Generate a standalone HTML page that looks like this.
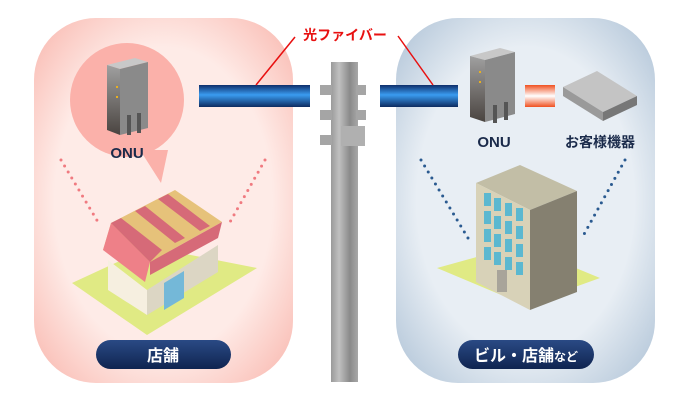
<!DOCTYPE html>
<html><head><meta charset="utf-8"><style>
html,body{margin:0;padding:0;background:#fff;}
svg{display:block;font-family:"Liberation Sans","Noto Sans CJK JP",sans-serif;}
</style></head><body>
<svg width="690" height="400" viewBox="0 0 690 400" xmlns="http://www.w3.org/2000/svg">
<defs>
<radialGradient id="pk" cx="50%" cy="50%" r="70%">
<stop offset="0.6" stop-color="#feebe7"/><stop offset="1" stop-color="#f9b6ad"/></radialGradient>
<radialGradient id="bl" cx="50%" cy="50%" r="70%">
<stop offset="0.6" stop-color="#e8eef4"/><stop offset="1" stop-color="#aec2d6"/></radialGradient>
<linearGradient id="fib" x1="0" y1="0" x2="0" y2="1">
<stop offset="0" stop-color="#0e2f6b"/><stop offset="0.45" stop-color="#3a9cf0"/><stop offset="1" stop-color="#0d2b60"/></linearGradient>
<linearGradient id="org" x1="0" y1="0" x2="0" y2="1">
<stop offset="0" stop-color="#f05020"/><stop offset="0.5" stop-color="#fff"/><stop offset="1" stop-color="#f05020"/></linearGradient>
<linearGradient id="pole" x1="0" y1="0" x2="1" y2="0">
<stop offset="0" stop-color="#9a9a9a"/><stop offset="0.3" stop-color="#c0c0c0"/><stop offset="0.7" stop-color="#8a8a8a"/><stop offset="1" stop-color="#a8a8a8"/></linearGradient>
<linearGradient id="pill" x1="0" y1="0" x2="0" y2="1">
<stop offset="0" stop-color="#2a4a85"/><stop offset="1" stop-color="#0f2450"/></linearGradient>
<linearGradient id="onuF" x1="0" y1="0" x2="0" y2="1">
<stop offset="0" stop-color="#a0a0a0"/><stop offset="1" stop-color="#4a4440"/></linearGradient>
</defs>
<rect x="34" y="18" width="259" height="365" rx="62" fill="url(#pk)"/>
<rect x="396" y="18" width="259" height="365" rx="62" fill="url(#bl)"/>
<!-- pole -->
<rect x="331" y="62" width="27" height="320" fill="url(#pole)"/>
<g fill="#a5a5a5"><rect x="320" y="85" width="12" height="10"/><rect x="356" y="85" width="10" height="10"/><rect x="320" y="110" width="12" height="10"/><rect x="356" y="110" width="10" height="10"/><rect x="320" y="135" width="12" height="10"/><rect x="341" y="126" width="24" height="20" fill="#b0b0b0"/></g>
<!-- bubble -->
<circle cx="127" cy="100" r="57" fill="#fbb1aa"/>
<polygon points="140,150 168,150 161,183" fill="#fbb1aa"/>
<!-- left ONU -->
<polygon points="107,65 135,58 148,62 120,69" fill="#c8c8c8"/>
<polygon points="107,65 120,69 120,135 107,130" fill="url(#onuF)"/>
<polygon points="120,69 148,62 148,128 120,135" fill="#8a8a8a"/>
<g fill="#555"><rect x="127" y="115" width="4" height="20"/><rect x="137" y="113" width="4" height="20"/></g>
<g fill="#e8b020"><rect x="116" y="86" width="2" height="2"/><rect x="116" y="96" width="2" height="2"/></g>
<text x="127" y="158" font-size="15" font-weight="bold" fill="#1a2a4a" text-anchor="middle">ONU</text>
<!-- fibers -->
<rect x="199" y="85" width="111" height="22" fill="url(#fib)"/>
<rect x="380" y="85" width="78" height="22" fill="url(#fib)"/>
<rect x="525" y="85" width="30" height="22" fill="url(#org)"/>
<text x="345" y="40" font-size="14" font-weight="bold" fill="#e81010" text-anchor="middle">光ファイバー</text>
<line x1="295" y1="37" x2="256" y2="85" stroke="#e81010" stroke-width="1.5"/>
<line x1="398" y1="36" x2="433" y2="85" stroke="#e81010" stroke-width="1.5"/>
<!-- right ONU -->
<polygon points="470,56 500,48 515,52 485,60" fill="#c8c8c8"/>
<polygon points="470,56 485,60 485,122 470,117" fill="url(#onuF)"/>
<polygon points="485,60 515,52 515,114 485,122" fill="#8a8a8a"/>
<g fill="#555"><rect x="493" y="105" width="4" height="18"/><rect x="504" y="102" width="4" height="18"/></g>
<g fill="#e8b020"><rect x="479" y="71" width="2" height="2"/><rect x="479" y="81" width="2" height="2"/></g>
<text x="494" y="147" font-size="15" font-weight="bold" fill="#1a2a4a" text-anchor="middle">ONU</text>
<!-- hub -->
<polygon points="563,87 597,71 637,96 603,112" fill="#c4c4c4"/>
<polygon points="563,87 603,112 603,121 563,96" fill="#9a9a9a"/>
<polygon points="603,112 637,96 637,105 603,121" fill="#777"/>
<text x="600" y="147" font-size="14" font-weight="bold" fill="#1a2a4a" text-anchor="middle">お客様機器</text>
<!-- dots -->
<g stroke-linecap="round" stroke-width="3" stroke-dasharray="0 7">
<line x1="61" y1="160" x2="98" y2="222" stroke="#f07a80"/>
<line x1="265" y1="160" x2="230" y2="222" stroke="#f07a80"/>
<line x1="421" y1="160" x2="468" y2="238" stroke="#2a5a90"/>
<line x1="625" y1="160" x2="582" y2="238" stroke="#2a5a90"/>
</g>
<!-- store -->
<polygon points="72,283 150,247 257,268 147,335" fill="#e0ea84"/>
<polygon points="108,260 147,290 147,315 108,290" fill="#f6efe0"/>
<polygon points="147,290 218,245 218,272 147,315" fill="#dcd6c4"/>
<polygon points="164,283 184,271 184,298 164,310" fill="#74b8d8"/>
<polygon points="111,223 175,190 222,222 150,262 103,250" fill="#e6c27a"/>
<polygon points="103,250 111,223 150,262 145,282" fill="#ee8088"/>
<g fill="#d66a78"><polygon points="111,223 121,218 162,250 150,262"/><polygon points="135,211 145,206 185,238 175,243"/><polygon points="158,199 168,194 210,226 200,231"/><polygon points="150,262 222,222 218,238 150,275"/></g>
<!-- building -->
<polygon points="437,268 520,245 600,278 525,305" fill="#e0ea84"/>
<polygon points="476,183 520,165 577,191 530,210" fill="#c2bea6"/>
<polygon points="476,183 530,210 530,310 476,282" fill="#d8d2b8"/>
<polygon points="530,210 577,191 577,292 530,310" fill="#858070"/>
<g fill="#5bb8d0">
<rect x="484" y="193" width="7" height="13"/><rect x="494" y="198" width="7" height="13"/><rect x="505" y="203" width="7" height="13"/><rect x="516" y="208" width="7" height="13"/>
<rect x="484" y="211" width="7" height="13"/><rect x="494" y="216" width="7" height="13"/><rect x="505" y="221" width="7" height="13"/><rect x="516" y="226" width="7" height="13"/>
<rect x="484" y="229" width="7" height="13"/><rect x="494" y="234" width="7" height="13"/><rect x="505" y="239" width="7" height="13"/><rect x="516" y="244" width="7" height="13"/>
<rect x="484" y="247" width="7" height="13"/><rect x="494" y="252" width="7" height="13"/><rect x="505" y="257" width="7" height="13"/><rect x="516" y="262" width="7" height="13"/>
</g>
<rect x="497" y="270" width="10" height="22" fill="#a8a49a"/>
<!-- pills -->
<rect x="96" y="340" width="135" height="29" rx="14.5" fill="url(#pill)"/>
<text x="163" y="361" font-size="16" font-weight="bold" fill="#fff" text-anchor="middle">店舗</text>
<rect x="458" y="340" width="136" height="29" rx="14.5" fill="url(#pill)"/>
<text x="526" y="361" font-size="16" font-weight="bold" fill="#fff" text-anchor="middle">ビル・店舗<tspan font-size="12">など</tspan></text>
</svg>
</body></html>
